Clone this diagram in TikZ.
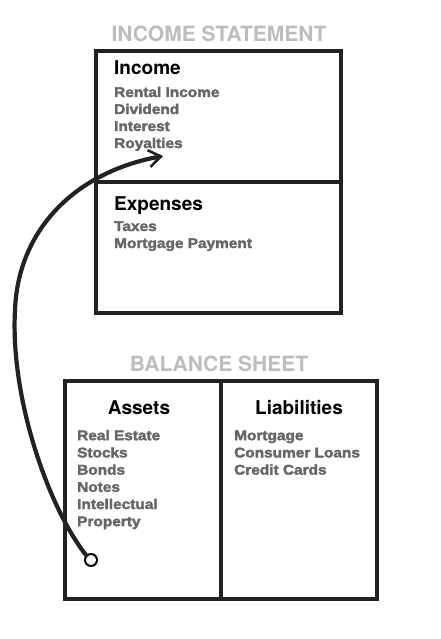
\documentclass[tikz,border=0pt]{standalone}
\usepackage{fontspec}
\setmainfont{TeX Gyre Heros}
\newfontfamily\itemfont[FakeStretch=1.1,FakeBold=2.5]{Liberation Sans Bold}
\usepackage{xcolor}
\usetikzlibrary{arrows.meta}

\definecolor{titlegray}{HTML}{BDBDBD}
\definecolor{itemgray}{HTML}{666666}
\definecolor{inkblack}{HTML}{222222}

\begin{document}
\begin{tikzpicture}[x=1pt,y=-1pt,
    sheet/.style={draw=inkblack,line width=3.2pt},
    title/.style={anchor=base,text=titlegray,font=\fontsize{21}{21}\selectfont\bfseries,inner sep=0pt},
    head/.style={text=black,font=\fontsize{19}{19}\selectfont\bfseries,inner sep=0pt},
    itemtxt/.style={anchor=base west,text=itemgray,font=\fontsize{14}{14}\itemfont,inner sep=0pt}]
        \useasboundingbox (0,0) rectangle (441,639);
        % income statement
        \node[title] (istitle) at (219,42) {INCOME STATEMENT};
        \draw[sheet] (96,51) rectangle (341,313);
        \draw[sheet] (96,182) -- (341,182);
        \node[head,anchor=base west] (income) at (114,75) {Income};
        \foreach \t [count=\i] in {Rental Income, Dividend, Interest, Royalties}
        \node[itemtxt] (inc\i) at (114,80+17*\i) {\t};
        \node[head,anchor=base west] (expenses) at (114,210) {Expenses};
        \foreach \t [count=\i] in {Taxes, Mortgage Payment}
        \node[itemtxt] (exp\i) at (114,214+17*\i) {\t};
        % balance sheet
        \node[title] (bstitle) at (219,371) {BALANCE SHEET};
        \draw[sheet] (65,381) rectangle (377,599);
        \draw[sheet] (221,381) -- (221,599);
        \node[head,anchor=base] (assets) at (139,414) {Assets};
        \node[head,anchor=base] (liab) at (299,414) {Liabilities};
        \foreach \t [count=\i] in {Real Estate, Stocks, Bonds, Notes, Intellectual, Property}
        \node[itemtxt] (ast\i) at (77,423+17.2*\i) {\t};
        \foreach \t [count=\i] in {Mortgage, Consumer Loans, Credit Cards}
        \node[itemtxt] (lia\i) at (234,423+17.2*\i) {\t};
        % flow arrow
        \node[circle,draw=black,line width=2pt,minimum size=12pt,inner sep=0pt] (src) at (91,560) {};
        \coordinate (tip) at (163,156);
        \draw[inkblack,line width=4.2pt,line cap=round,
            -{Straight Barb[length=12pt,width=17pt,line width=2.6pt]}]
            (src.north west) .. controls (50,510) and (10,400) .. (15,310)
            .. controls (18,230) and (75,172) .. (tip);
\end{tikzpicture}
\end{document}
